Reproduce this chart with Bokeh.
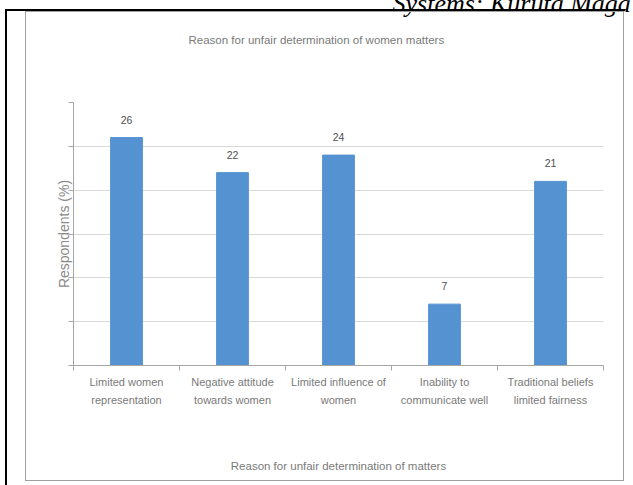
from bokeh.plotting import figure
from bokeh.models import (Range1d, LinearAxis, FixedTicker, ColumnDataSource, Grid,
                          Title, InlineStyleSheet)
from bokeh.core.properties import value
from bokeh.embed import file_html
from bokeh.resources import INLINE

# ---- data ----
categories = ["Limited women\nrepresentation",
              "Negative attitude\ntowards women",
              "Limited influence of\nwomen",
              "Inability to\ncommunicate well",
              "Traditional beliefs\nlimited fairness"]
values = [26, 22, 24, 7, 21]
y_ticks = [0, 5, 10, 15, 20, 25, 30]
chart_title = "Reason for unfair determination of women matters"
x_title = "Reason for unfair determination of matters"
y_title = "Respondents (%)"
header_text = "Systems: Kuruta Maga"

# ---- layout constants (pixels) ----
D = 20                      # the page is shifted up so the header is cut by the top edge
W, H = 633, 485 + D
FL, FR = 73, 603
FT, FB = 102 + D, 365 + D   # frame top/bottom in canvas pixels
n = len(categories)
YMAX = 30

FONT = "Liberation Sans"
TXT = "#7a7a7a"
AX = "#a6a6a6"

p = figure(width=W, height=H, x_range=Range1d(0, n), y_range=Range1d(0, YMAX),
           output_backend="svg", toolbar_location=None,
           x_axis_type=None, y_axis_type=None,
           min_border_left=FL, min_border_right=W - FR,
           min_border_top=FT, min_border_bottom=H - FB)
p.outline_line_color = None
p.background_fill_color = "white"
p.border_fill_color = "white"

# outermost title: page header fragment
p.title.text = header_text
p.title.align = "left"
p.title.offset = 392 - FL
p.title.standoff = 0
p.title.vertical_align = "bottom"
p.title.text_font = "Liberation Serif"
p.title.text_font_style = "italic"
p.title.text_font_size = "26px"
p.title.text_color = "black"

# spacer next to the frame, then the chart title
p.add_layout(Title(text=" ", standoff=40, text_font_size="1px"), "above")
p.add_layout(Title(text=chart_title, align="left", offset=115, standoff=28,
                   vertical_align="bottom", text_font=FONT,
                   text_font_size="11.5px", text_font_style="normal",
                   text_color=TXT), "above")

centers = [i + 0.5 for i in range(n)]
bounds = [float(i) for i in range(n + 1)]

# y axis
yaxis = LinearAxis(ticker=FixedTicker(ticks=y_ticks),
                   major_label_overrides={t: "" for t in y_ticks},
                   major_label_standoff=0,
                   major_tick_out=5, major_tick_in=0,
                   minor_tick_line_color=None,
                   axis_line_color=AX, major_tick_line_color=AX,
                   axis_label=y_title, axis_label_standoff=-3,
                   axis_label_text_font=FONT, axis_label_text_font_size="14px",
                   axis_label_text_font_style="normal",
                   axis_label_text_color="#8a8a8a")
p.add_layout(yaxis, "left")

# x axis with category separators as minor ticks
xaxis = LinearAxis(ticker=FixedTicker(ticks=centers, minor_ticks=bounds),
                   major_label_overrides={c: lab for c, lab in zip(centers, categories)},
                   major_tick_line_color=None, major_tick_out=0, major_tick_in=0,
                   minor_tick_out=5, minor_tick_in=0, minor_tick_line_color=AX,
                   axis_line_color=AX,
                   major_label_standoff=5,
                   major_label_text_font=FONT,
                   major_label_text_font_size="11px",
                   major_label_text_line_height=1.5,
                   major_label_text_color=TXT,
                   axis_label=x_title, axis_label_standoff=51,
                   axis_label_text_font=FONT, axis_label_text_font_size="11.5px",
                   axis_label_text_font_style="normal",
                   axis_label_text_color=TXT)
p.add_layout(xaxis, "below")

p.add_layout(Grid(dimension=1, ticker=yaxis.ticker, grid_line_color="#d9d9d9"))

src = ColumnDataSource(dict(x=centers, top=values, lab=[str(v) for v in values]))
p.vbar(x="x", top="top", bottom=0, width=0.3, source=src,
       fill_color="#5592d2", line_color="#5592d2")
p.text(x="x", y="top", text="lab", source=src, text_align="center",
       text_baseline="middle", y_offset=-18, text_font_size="10.5px",
       text_color="#505050", text_font=value(FONT))

# scanned page frame: chart border (grey) and table cell border (black)
css = f"""
:host {{ position: relative; margin-top: -{D}px; }}
:host::before {{ content: ""; position: absolute; left: 25px; top: {11 + D}px;
  width: 597px; height: 468px; border: 1.5px solid #a0a0a0;
  pointer-events: none; z-index: 5; }}
:host::after {{ content: ""; position: absolute; left: 5px; top: {9 + D}px;
  width: 618px; height: {H - 9 - D}px; border-top: 2px solid black;
  border-left: 2px solid black; pointer-events: none; z-index: 6; }}
"""
p.stylesheets = [InlineStyleSheet(css=css)]

open("out.html", "w").write(file_html(p, INLINE))
